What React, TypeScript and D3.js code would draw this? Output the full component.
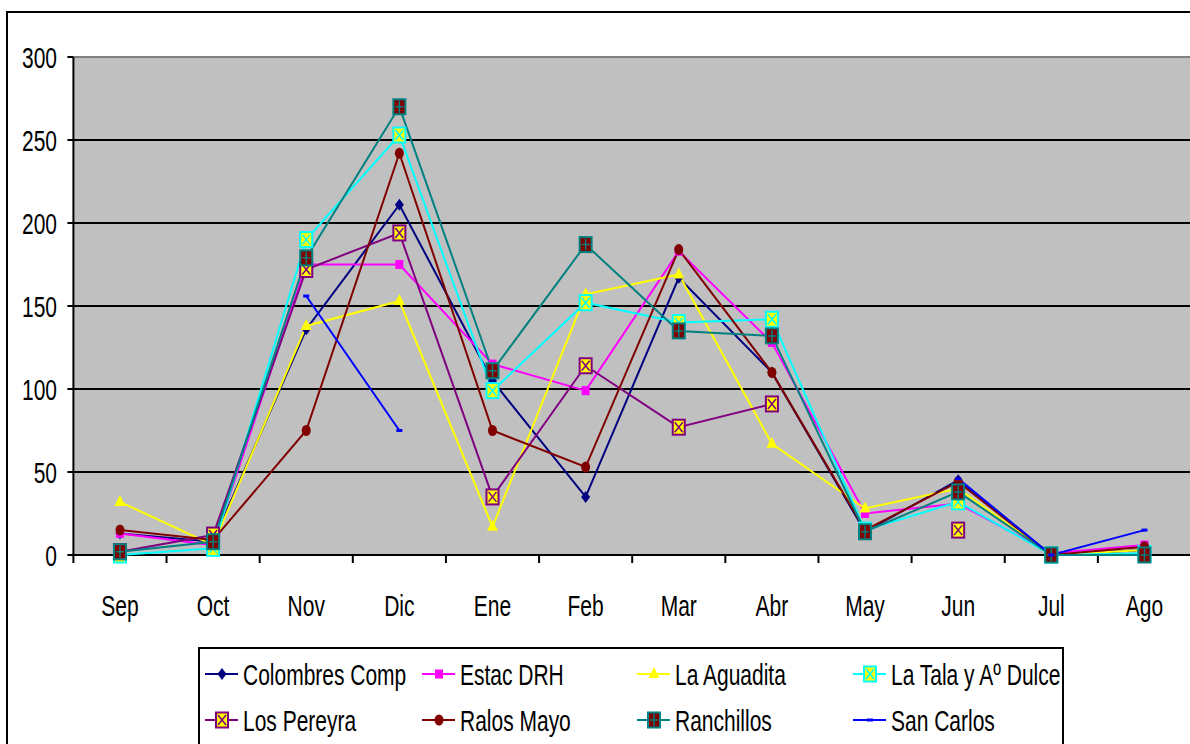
import React from 'react';
import * as d3 from 'd3';

// months along the x axis
const months = ['Sep', 'Oct', 'Nov', 'Dic', 'Ene', 'Feb', 'Mar', 'Abr', 'May', 'Jun', 'Jul', 'Ago'];
const yTicks = [0, 50, 100, 150, 200, 250, 300];

// values
const colombresComp = [13, 8, 136, 211, 105, 35, 167, 110, 14, 45, 0, 3];
const estacDRH = [13, 6, 175, 175, 115, 99, 183, 128, 25, 31, 1, 6];
const laAguadita = [32, 6, 138, 153, 17, 157, 169, 67, 28, 40, 0, 3];
const laTala = [0, 4, 190, 253, 99, 152, 140, 142, 15, 32, 0, 1];
const losPereyra = [2, 12, 172, 194, 35, 114, 77, 91, null, 15, null, null];
const ralosMayo = [15, 9, 75, 242, 75, 53, 184, 110, 15, 44, 0, 5];
const ranchillos = [2, 8, 179, 270, 111, 187, 135, 132, 14, 38, 0, 0];
const sanCarlos = [null, null, 156, 75, null, null, null, null, null, 46, 0, 15];

type Marker = 'diamond' | 'square' | 'triangle' | 'xbox' | 'circle' | 'plusbox' | 'dash';

const series: { name: string; values: (number | null)[]; color: string; marker: Marker; fill: string }[] = [
  { name: 'Colombres Comp', values: colombresComp, color: '#000080', marker: 'diamond', fill: '#000080' },
  { name: 'Estac DRH', values: estacDRH, color: '#FF00FF', marker: 'square', fill: '#FF00FF' },
  { name: 'La Aguadita', values: laAguadita, color: '#FFFF00', marker: 'triangle', fill: '#FFFF00' },
  { name: 'La Tala y Aº Dulce', values: laTala, color: '#00FFFF', marker: 'xbox', fill: '#FFFF00' },
  { name: 'Los Pereyra', values: losPereyra, color: '#800080', marker: 'xbox', fill: '#FFFF00' },
  { name: 'Ralos Mayo', values: ralosMayo, color: '#800000', marker: 'circle', fill: '#800000' },
  { name: 'Ranchillos', values: ranchillos, color: '#008080', marker: 'plusbox', fill: '#800000' },
  { name: 'San Carlos', values: sanCarlos, color: '#0000FF', marker: 'dash', fill: '#0000FF' },
];

const FONT = 'Liberation Sans, Arial, sans-serif';
const SX = 0.7; // the reference text is horizontally squeezed

const plot = { left: 73.4, right: 1191, top: 57, bottom: 555 };

const MarkerShape = ({ kind, x, y, color, fill }: { kind: Marker; x: number; y: number; color: string; fill: string }) => {
  switch (kind) {
    case 'diamond':
      return <path d={`M${x},${y - 6}L${x + 4.5},${y}L${x},${y + 6}L${x - 4.5},${y}Z`} fill={fill} />;
    case 'square':
      return <rect x={x - 4} y={y - 4.5} width={8} height={9} fill={fill} />;
    case 'triangle':
      return <path d={`M${x},${y - 7}L${x + 5.5},${y + 4}L${x - 5.5},${y + 4}Z`} fill={fill} />;
    case 'circle':
      return <ellipse cx={x} cy={y} rx={4.5} ry={5.5} fill={fill} />;
    case 'dash':
      return <rect x={x - 3} y={y - 1.5} width={6} height={3} fill={fill} />;
    case 'xbox':
      return (
        <g>
          <rect x={x - 6} y={y - 7.5} width={12} height={15} fill={fill} stroke={color} strokeWidth={2} />
          <path d={`M${x - 4},${y - 5}L${x + 4},${y + 5}M${x + 4},${y - 5}L${x - 4},${y + 5}`} stroke={color} strokeWidth={1.5} />
        </g>
      );
    case 'plusbox':
      return (
        <g>
          <rect x={x - 6} y={y - 7.5} width={12} height={15} fill={fill} stroke={color} strokeWidth={2} />
          <path d={`M${x},${y - 6}L${x},${y + 6}M${x - 4},${y}L${x + 4},${y}`} stroke={color} strokeWidth={1.5} />
        </g>
      );
  }
  return null;
};

const SqText = ({ x, y, anchor, children }: { x: number; y: number; anchor: string; children: React.ReactNode }) => (
  <text
    transform={`translate(${x},${y}) scale(${SX},1)`}
    textAnchor={anchor}
    fontFamily={FONT}
    fontSize={30}
    fill="#000"
  >
    {children}
  </text>
);

const App = () => {
  const x = d3.scaleBand<string>().domain(months).range([plot.left, plot.right]);
  const cx = (m: string) => (x(m) as number) + x.bandwidth() / 2;
  const y = d3.scaleLinear().domain([0, 300]).range([plot.bottom, plot.top]);

  const line = d3
    .line<number | null>()
    .defined(d => d !== null)
    .x((_, i) => cx(months[i]))
    .y(d => y(d as number));

  const legendCols = [205, 422, 637, 853];
  const legendRows = [674, 720];

  return (
    <svg
      width={1190}
      height={744}
      style={{ position: 'absolute', left: 0, top: 0, background: '#fff' }}
    >
      {/* outer chart frame */}
      <path d="M7,760V12H1200" fill="none" stroke="#000" strokeWidth={2} />

      {/* plot area */}
      <rect x={plot.left} y={plot.top} width={plot.right - plot.left} height={plot.bottom - plot.top} fill="#C0C0C0" />
      {yTicks.filter(t => t > 0).map(t => (
        <line
          key={t}
          x1={plot.left}
          x2={plot.right}
          y1={y(t)}
          y2={y(t)}
          stroke={t === 300 ? '#808080' : '#000'}
          strokeWidth={2}
        />
      ))}

      {/* y axis */}
      <line x1={plot.left} x2={plot.left} y1={plot.top} y2={plot.bottom} stroke="#000" strokeWidth={2} />
      {yTicks.map(t => (
        <g key={t}>
          <line x1={plot.left - 6} x2={plot.left} y1={y(t)} y2={y(t)} stroke="#000" strokeWidth={2} />
          <SqText x={57} y={y(t) + 11} anchor="end">{t}</SqText>
        </g>
      ))}

      {/* x axis */}
      <line x1={plot.left} x2={plot.right} y1={plot.bottom} y2={plot.bottom} stroke="#000" strokeWidth={2} />
      {months.map(m => (
        <g key={m}>
          <line x1={x(m) as number} x2={x(m) as number} y1={plot.bottom} y2={plot.bottom + 8} stroke="#000" strokeWidth={2} />
          <SqText x={cx(m)} y={616} anchor="middle">{m}</SqText>
        </g>
      ))}

      {/* series lines */}
      {series.map(s => (
        <path key={s.name} d={line(s.values) || ''} fill="none" stroke={s.color} strokeWidth={2} />
      ))}
      {/* markers */}
      {series.map(s => (
        <g key={s.name + '-m'}>
          {s.values.map((v, i) =>
            v === null ? null : (
              <MarkerShape key={i} kind={s.marker} x={cx(months[i])} y={y(v)} color={s.color} fill={s.fill} />
            )
          )}
        </g>
      ))}

      {/* legend */}
      <rect x={199} y={648} width={864} height={110} fill="#fff" stroke="#000" strokeWidth={2} />
      {series.map((s, i) => {
        const lx = legendCols[i % 4];
        const ly = legendRows[Math.floor(i / 4)];
        return (
          <g key={s.name + '-l'}>
            <line x1={lx} x2={lx + 33} y1={ly} y2={ly} stroke={s.color} strokeWidth={2} />
            <MarkerShape kind={s.marker} x={lx + 17} y={ly} color={s.color} fill={s.fill} />
            <SqText x={lx + 38} y={ly + 11} anchor="start">{s.name}</SqText>
          </g>
        );
      })}
    </svg>
  );
};

export default App;
